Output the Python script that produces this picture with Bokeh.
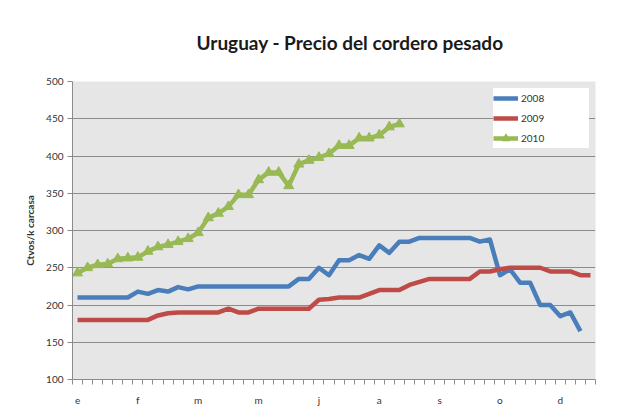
from bokeh.plotting import figure
from bokeh.models import Range1d, FixedTicker, Legend, LegendItem
from bokeh.embed import file_html
from bokeh.resources import INLINE

# ---- data -------------------------------------------------------------
weeks = list(range(52))                       # weekly categories
month_labels = ["e", "f", "m", "m", "j", "a", "s", "o", "d"]
label_step = 6                                # one label every 6 weeks
y_ticks = [100, 150, 200, 250, 300, 350, 400, 450, 500]
years = ["2008", "2009", "2010"]

precio_2008 = [210, 210, 210, 210, 210, 210, 218, 215, 220, 218,
               224, 221, 225, 225, 225, 225, 225, 225, 225, 225,
               225, 225, 235, 235, 250, 240, 260, 260, 267, 262,
               280, 270, 285, 285, 290, 290, 290, 290, 290, 290,
               285, 288, 240, 248, 230, 230, 200, 200, 185, 190,
               165]
precio_2009 = [180, 180, 180, 180, 180, 180, 180, 180, 186, 189,
               190, 190, 190, 190, 190, 195, 190, 190, 195, 195,
               195, 195, 195, 195, 207, 208, 210, 210, 210, 215,
               220, 220, 220, 227, 231, 235, 235, 235, 235, 235,
               245, 245, 248, 250, 250, 250, 250, 245, 245, 245,
               240, 240]
precio_2010 = [243, 250, 254, 255, 262, 263, 264, 272, 278, 281,
               285, 289, 297, 317, 323, 332, 348, 348, 368, 378,
               378, 360, 389, 394, 398, 403, 414, 414, 424, 424,
               428, 439, 443]

colors = ["#4A7EBB", "#BE4B48", "#98B954"]
FONT = "Lato"

# ---- figure -----------------------------------------------------------
p = figure(width=613, height=411, output_backend="svg", toolbar_location=None,
           x_range=Range1d(-0.5, len(weeks) - 0.5), y_range=Range1d(100, 500),
           min_border_left=72, min_border_right=18, min_border_top=80,
           min_border_bottom=32,
           title="Uruguay - Precio del cordero pesado")
p.background_fill_color = "#e6e6e6"
p.border_fill_color = "white"
p.outline_line_color = None

p.title.align = "left"
p.title.offset = 124
p.title.standoff = 56
p.title.text_font = FONT
p.title.text_font_style = "bold"
p.title.text_font_size = "19px"
p.title.text_color = "#1a1a1a"

# axes
label_pos = [i * label_step for i in range(len(month_labels))]
boundaries = [w - 0.5 for w in weeks] + [weeks[-1] + 0.5]
p.xaxis.ticker = FixedTicker(ticks=label_pos, minor_ticks=boundaries)
p.xaxis.major_label_overrides = {pos: lab for pos, lab in zip(label_pos, month_labels)}
p.xaxis.major_tick_out = 0
p.xaxis.major_tick_in = 0
p.xaxis.minor_tick_out = 5
p.xaxis.minor_tick_in = 0
p.xaxis.major_label_standoff = 9

p.yaxis.ticker = FixedTicker(ticks=y_ticks)
p.yaxis.major_tick_out = 5
p.yaxis.major_tick_in = 0
p.yaxis.minor_tick_out = 0
p.yaxis.minor_tick_in = 0
p.yaxis.major_label_standoff = 4
p.yaxis.axis_label = "Ctvos/k carcasa"
p.yaxis.axis_label_text_font = FONT
p.yaxis.axis_label_text_font_style = "bold"
p.yaxis.axis_label_text_font_size = "10px"
p.yaxis.axis_label_text_color = "#333333"
p.yaxis.axis_label_standoff = 7

for ax in (p.xaxis[0], p.yaxis[0]):
    ax.axis_line_color = "#8c8c8c"
    ax.major_tick_line_color = "#8c8c8c"
    ax.minor_tick_line_color = "#8c8c8c"
    ax.major_label_text_font = FONT
    ax.major_label_text_font_size = "10px"
    ax.major_label_text_color = "#333333"

p.xgrid.visible = False
p.ygrid.ticker = FixedTicker(ticks=y_ticks)
p.ygrid.grid_line_color = "#8c8c8c"
p.ygrid.grid_line_width = 1

# series
series = [precio_2008, precio_2009, precio_2010]
items = []
for yr, vals, col in zip(years, series, colors):
    xs = weeks[:len(vals)]
    r = p.line(xs, vals, line_color=col, line_width=4.5, line_join="round")
    rends = [r]
    if yr == "2010":
        s = p.scatter(xs, vals, marker="triangle", size=10, fill_color=col,
                      line_color=col)
        rends.append(s)
    items.append(LegendItem(label=yr, renderers=rends))

legend = Legend(items=items, location=(421, 231), padding=6,
                spacing=0, glyph_width=25, glyph_height=20, label_height=20,
                label_width=68, label_standoff=3,
                background_fill_color="white", background_fill_alpha=1,
                border_line_color=None, label_text_font=FONT,
                label_text_font_size="10px", label_text_color="#333333")
p.add_layout(legend)

open("out.html", "w").write(file_html(p, INLINE))
